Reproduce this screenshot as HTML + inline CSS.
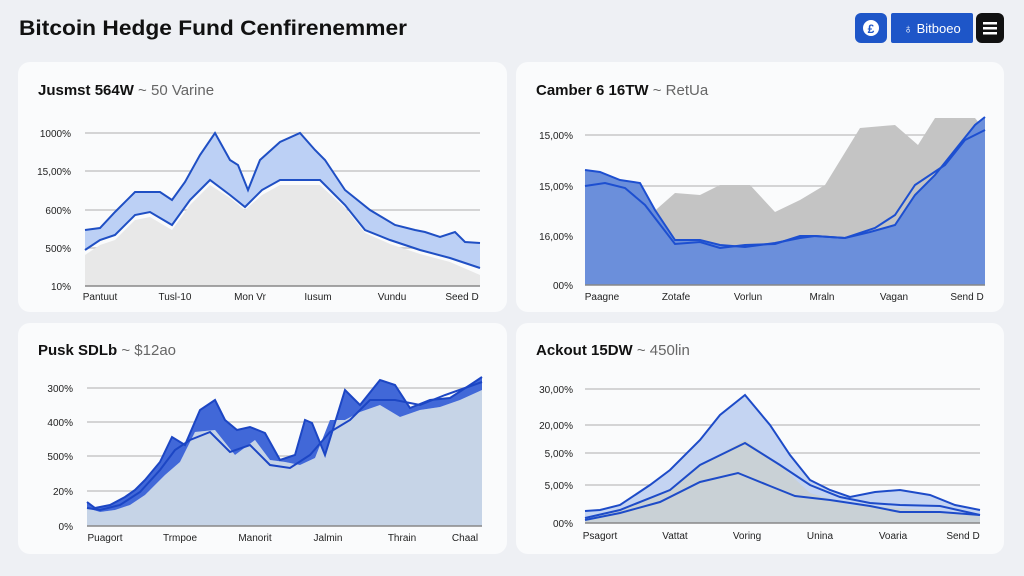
<!DOCTYPE html>
<html><head><meta charset="utf-8"><style>
html,body{margin:0;padding:0;width:1024px;height:576px;background:#eef0f4;overflow:hidden;font-family:"Liberation Sans",sans-serif}
</style></head><body>
<svg width="1024" height="576" viewBox="0 0 1024 576" xmlns="http://www.w3.org/2000/svg" font-family="Liberation Sans, sans-serif">
<rect width="1024" height="576" fill="#eef0f4"/>
<text x="19" y="35" font-size="21" font-weight="bold" fill="#111" textLength="388" lengthAdjust="spacingAndGlyphs">Bitcoin Hedge Fund Cenfirenemmer</text>
<rect x="855" y="13" width="32" height="30" rx="6" fill="#1e56c8"/>
<circle cx="871" cy="28" r="8" fill="#fff"/><text x="871" y="33" font-size="12" font-weight="bold" fill="#1e56c8" text-anchor="middle">£</text>
<rect x="891" y="13" width="82" height="30" rx="2" fill="#1e56c8"/>
<text x="932" y="33" font-size="13" fill="#fff" text-anchor="middle">♁ Bitboeo</text>
<rect x="976" y="13" width="28" height="30" rx="6" fill="#111"/>
<rect x="983" y="22" width="14" height="2.5" fill="#fff"/><rect x="983" y="27" width="14" height="2.5" fill="#fff"/><rect x="983" y="32" width="14" height="2.5" fill="#fff"/>

<g fill="#fafbfc"><rect x="18" y="62" width="489" height="250" rx="12"/><rect x="516" y="62" width="488" height="250" rx="12"/><rect x="18" y="323" width="489" height="231" rx="12"/><rect x="516" y="323" width="488" height="231" rx="12"/></g>

<g font-size="15" font-weight="bold" fill="#111">
<text x="38" y="95">Jusmst 564W <tspan font-weight="normal" fill="#666">~ 50 Varine</tspan></text>
<text x="536" y="95">Camber 6 16TW <tspan font-weight="normal" fill="#666">~ RetUa</tspan></text>
<text x="38" y="355">Pusk SDLb <tspan font-weight="normal" fill="#666">~ $12ao</tspan></text>
<text x="536" y="355">Ackout 15DW <tspan font-weight="normal" fill="#666">~ 450lin</tspan></text>
</g>

<!-- Panel 1 -->
<g stroke="#c8c8c8" stroke-width="1.5"><line x1="85" y1="133" x2="480" y2="133"/><line x1="85" y1="171" x2="480" y2="171"/><line x1="85" y1="210" x2="480" y2="210"/><line x1="85" y1="248" x2="480" y2="248"/></g>
<path d="M85,255 L100,245 L115,240 L135,220 L150,217 L172,230 L190,205 L210,185 L230,198 L245,210 L262,195 L280,185 L320,185 L345,208 L365,233 L390,244 L420,254 L450,262 L480,275 L480,286 L85,286Z" fill="#e8e8e8"/>
<path d="M85,230 L100,228 L115,212 L135,192 L160,192 L172,200 L185,182 L200,155 L215,133 L230,160 L238,165 L248,190 L260,160 L280,142 L300,133 L315,150 L325,160 L345,190 L370,210 L395,225 L415,230 L425,232 L440,237 L455,232 L465,242 L480,243 L480,268 L450,258 L420,250 L390,240 L365,230 L345,205 L320,180 L280,180 L262,190 L245,207 L230,195 L210,180 L190,200 L172,225 L150,212 L135,215 L115,235 L100,240 L85,250Z" fill="#bcd0f5"/>
<g fill="none" stroke="#1f4fc4" stroke-width="2"><path d="M85,230 L100,228 L115,212 L135,192 L160,192 L172,200 L185,182 L200,155 L215,133 L230,160 L238,165 L248,190 L260,160 L280,142 L300,133 L315,150 L325,160 L345,190 L370,210 L395,225 L415,230 L425,232 L440,237 L455,232 L465,242 L480,243"/><path d="M85,250 L100,240 L115,235 L135,215 L150,212 L172,225 L190,200 L210,180 L230,195 L245,207 L262,190 L280,180 L320,180 L345,205 L365,230 L390,240 L420,250 L450,258 L480,268"/></g>
<line x1="85" y1="286" x2="480" y2="286" stroke="#888" stroke-width="1.5"/>
<g font-size="10" fill="#222" text-anchor="end"><text x="71" y="137">1000%</text><text x="71" y="175">15,00%</text><text x="71" y="214">600%</text><text x="71" y="252">500%</text><text x="71" y="290">10%</text></g>
<g font-size="10" fill="#222" text-anchor="middle"><text x="100" y="300">Pantuut</text><text x="175" y="300">Tusl-10</text><text x="250" y="300">Mon Vr</text><text x="318" y="300">Iusum</text><text x="392" y="300">Vundu</text><text x="462" y="300">Seed D</text></g>

<!-- Panel 2 -->
<g stroke="#c8c8c8" stroke-width="1.5"><line x1="585" y1="135" x2="985" y2="135"/><line x1="585" y1="186" x2="985" y2="186"/><line x1="585" y1="236" x2="985" y2="236"/></g>
<path d="M650,215 L675,193 L700,195 L720,185 L750,185 L775,212 L800,200 L825,185 L860,128 L895,125 L918,145 L935,118 L975,118 L985,130 L985,285 L650,285Z" fill="#c4c4c4"/>
<path d="M585,170 L600,172 L620,180 L640,183 L655,210 L675,240 L700,240 L720,245 L745,247 L775,243 L800,238 L815,236 L845,238 L870,232 L895,225 L915,195 L935,175 L955,150 L975,125 L985,117 L985,285 L585,285Z" fill="#6b8fdb"/>
<g fill="none" stroke="#1d4fd0" stroke-width="2"><path d="M585,170 L600,172 L620,180 L640,183 L655,210 L675,240 L700,240 L720,245 L745,247 L775,243 L800,238 L815,236 L845,238 L870,232 L895,225 L915,195 L935,175 L955,150 L975,125 L985,117"/><path d="M585,186 L605,183 L625,188 L645,205 L675,244 L700,242 L720,248 L745,245 L775,244 L800,236 L815,236 L845,238 L875,228 L895,215 L915,185 L945,165 L965,140 L985,130"/></g>
<line x1="585" y1="285" x2="985" y2="285" stroke="#888" stroke-width="1.5"/>
<g font-size="10" fill="#222" text-anchor="end"><text x="573" y="139">15,00%</text><text x="573" y="190">15,00%</text><text x="573" y="240">16,00%</text><text x="573" y="289">00%</text></g>
<g font-size="10" fill="#222" text-anchor="middle"><text x="602" y="300">Paagne</text><text x="676" y="300">Zotafe</text><text x="748" y="300">Vorlun</text><text x="822" y="300">Mraln</text><text x="894" y="300">Vagan</text><text x="967" y="300">Send D</text></g>

<!-- Panel 3 -->
<g stroke="#c8c8c8" stroke-width="1.5"><line x1="87" y1="388" x2="482" y2="388"/><line x1="87" y1="422" x2="482" y2="422"/><line x1="87" y1="456" x2="482" y2="456"/><line x1="87" y1="491" x2="482" y2="491"/></g>
<path d="M87,508 L100,512 L115,510 L130,505 L145,495 L165,475 L180,462 L195,432 L215,430 L235,455 L255,440 L270,460 L285,462 L300,465 L315,458 L330,420 L345,420 L360,412 L380,405 L400,417 L420,410 L440,407 L460,400 L482,390 L482,526 L87,526Z" fill="#c6d4e7"/>
<path d="M87,502 L95,508 L110,505 L125,497 L135,490 L145,480 L160,462 L172,437 L185,445 L200,410 L215,400 L225,420 L237,430 L250,427 L265,433 L280,460 L295,455 L305,420 L312,423 L325,455 L345,390 L360,405 L380,380 L395,385 L410,408 L430,400 L450,398 L470,385 L482,377 L482,390 L460,400 L440,407 L420,410 L400,417 L380,405 L360,412 L345,420 L330,420 L315,458 L300,465 L285,462 L270,460 L255,440 L235,455 L215,430 L195,432 L180,462 L165,475 L145,495 L130,505 L115,510 L100,512 L87,508Z" fill="#4168d8"/>
<g fill="none" stroke="#1c46c4" stroke-width="2"><path d="M87,502 L95,508 L110,505 L125,497 L135,490 L145,480 L160,462 L172,437 L185,445 L200,410 L215,400 L225,420 L237,430 L250,427 L265,433 L280,460 L295,455 L305,420 L312,423 L325,455 L345,390 L360,405 L380,380 L395,385 L410,408 L430,400 L450,398 L470,385 L482,377"/><path d="M87,508 L100,510 L120,505 L140,492 L160,470 L175,450 L190,440 L210,432 L230,452 L250,445 L270,465 L290,468 L310,455 L330,432 L350,420 L370,400 L395,400 L420,405 L445,395 L465,388 L482,382"/></g>
<line x1="87" y1="526" x2="482" y2="526" stroke="#888" stroke-width="1.5"/>
<g font-size="10" fill="#222" text-anchor="end"><text x="73" y="392">300%</text><text x="73" y="426">400%</text><text x="73" y="460">500%</text><text x="73" y="495">20%</text><text x="73" y="530">0%</text></g>
<g font-size="10" fill="#222" text-anchor="middle"><text x="105" y="541">Puagort</text><text x="180" y="541">Trmpoe</text><text x="255" y="541">Manorit</text><text x="328" y="541">Jalmin</text><text x="402" y="541">Thrain</text><text x="465" y="541">Chaal</text></g>

<!-- Panel 4 -->
<g stroke="#c8c8c8" stroke-width="1.5"><line x1="585" y1="389" x2="980" y2="389"/><line x1="585" y1="425" x2="980" y2="425"/><line x1="585" y1="453" x2="980" y2="453"/><line x1="585" y1="485" x2="980" y2="485"/></g>
<path d="M585,511 L600,510 L620,505 L650,485 L670,470 L700,440 L720,415 L745,395 L770,425 L790,455 L810,480 L830,490 L850,497 L875,492 L900,490 L930,495 L955,505 L980,510 L980,523 L585,523Z" fill="#c4d4f2"/>
<path d="M585,518 L620,510 L670,490 L700,465 L745,440 L780,465 L810,493 L850,505 L900,508 L950,512 L980,515 L980,523 L585,523Z" fill="#c9d1d6"/>
<g fill="none" stroke="#1d4bc8" stroke-width="2"><path d="M585,511 L600,510 L620,505 L650,485 L670,470 L700,440 L720,415 L745,395 L770,425 L790,455 L810,480 L830,490 L850,497 L875,492 L900,490 L930,495 L955,505 L980,510"/><path d="M585,518 L620,510 L670,490 L700,465 L745,443 L780,465 L810,485 L840,497 L870,503 L900,505 L940,506 L980,515"/><path d="M585,520 L620,513 L660,502 L700,482 L738,473 L770,486 L795,496 L830,500 L870,506 L900,512 L940,512 L980,515"/></g>
<line x1="585" y1="523" x2="980" y2="523" stroke="#888" stroke-width="1.5"/>
<g font-size="10" fill="#222" text-anchor="end"><text x="573" y="393">30,00%</text><text x="573" y="429">20,00%</text><text x="573" y="457">5,00%</text><text x="573" y="489">5,00%</text><text x="573" y="527">00%</text></g>
<g font-size="10" fill="#222" text-anchor="middle"><text x="600" y="539">Psagort</text><text x="675" y="539">Vattat</text><text x="747" y="539">Voring</text><text x="820" y="539">Unina</text><text x="893" y="539">Voaria</text><text x="963" y="539">Send D</text></g>
</svg>
</body></html>
